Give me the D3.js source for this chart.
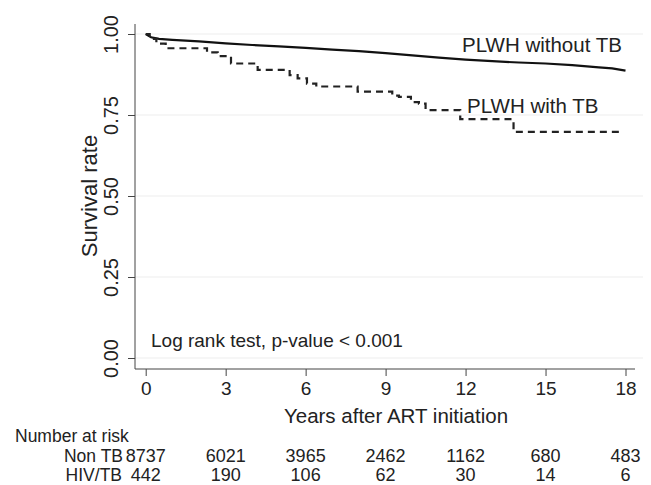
<!DOCTYPE html>
<html lang="en">
<head>
<meta charset="UTF-8">
<title>Survival rate by TB status</title>
<script src="https://d3js.org/d3.v7.min.js"></script>
<style>
    body { margin: 0; background: #fff; font-family: "Liberation Sans", Arial, sans-serif; }
    svg { display: block; }
    .axis text { fill: #222; font-family: "Liberation Sans", Arial, sans-serif; }
    .axis line { stroke: #444; }
    .grid line { stroke: #eeeeee; stroke-width: 1.2; }
    .lbl { fill: #222; }
</style>
</head>
<body>
<svg id="chart" width="651" height="485"></svg>
<script>
    // Kaplan-Meier estimates
    const nonTbTime = [0, 0.2, 0.5, 1, 2, 3, 4, 5, 6, 7, 8, 9, 10, 11, 12, 13, 14, 15, 16, 17, 17.5, 18];
    const nonTbSurv = [1, 0.99, 0.985, 0.982, 0.977, 0.971, 0.966, 0.962, 0.957, 0.952, 0.947, 0.941, 0.934, 0.927, 0.921, 0.916, 0.912, 0.909, 0.904, 0.897, 0.894, 0.887];

    const tbTime = [0, 0.15, 0.4, 0.75, 2.3, 2.7, 3.2, 4.2, 5.4, 5.7, 6.05, 6.4, 7.95, 9.25, 9.5, 9.95, 10.25, 10.5, 11.8, 13.8, 17.8];
    const tbSurv = [1, 0.985, 0.97, 0.956, 0.943, 0.932, 0.909, 0.889, 0.873, 0.863, 0.847, 0.838, 0.822, 0.81, 0.806, 0.79, 0.785, 0.765, 0.737, 0.698, 0.698];

    // number at risk table
    const riskTimes = [0, 3, 6, 9, 12, 15, 18];
    const riskNonTB = [8737, 6021, 3965, 2462, 1162, 680, 483];
    const riskTB = [442, 190, 106, 62, 30, 14, 6];

    const xTicks = [0, 3, 6, 9, 12, 15, 18];
    const yTicks = [0, 0.25, 0.5, 0.75, 1];

    const svg = d3.select("#chart");

    const x = d3.scaleLinear().domain([0, 18]).range([145.7, 625.5]);
    const y = d3.scaleLinear().domain([0, 1]).range([358, 34]);

    const plotLeft = 135, plotRight = 635, plotBottom = 369, plotTop = 24;

    // grid
    svg.append("g").attr("class", "grid")
        .selectAll("line").data(yTicks).enter().append("line")
        .attr("x1", plotLeft).attr("x2", 643)
        .attr("y1", d => y(d)).attr("y2", d => y(d));

    // y axis
    const yAxis = svg.append("g").attr("class", "axis")
        .attr("transform", `translate(${plotLeft},0)`)
        .call(d3.axisLeft(y).tickValues(yTicks).tickFormat(d3.format(".2f")).tickSize(7));
    yAxis.select(".domain").remove();
    yAxis.selectAll("text")
        .attr("transform", "rotate(-90)")
        .attr("x", 0).attr("y", -17).attr("dy", 0)
        .style("text-anchor", "middle")
        .style("font-size", "20px");
    svg.append("line").attr("x1", plotLeft).attr("x2", plotLeft).attr("y1", plotTop).attr("y2", plotBottom)
        .attr("stroke", "#444");

    // x axis
    const xAxis = svg.append("g").attr("class", "axis")
        .attr("transform", `translate(0,${plotBottom})`)
        .call(d3.axisBottom(x).tickValues(xTicks).tickSize(7));
    xAxis.select(".domain").remove();
    xAxis.selectAll("text").attr("y", 13).style("font-size", "19px");
    svg.append("line").attr("x1", plotLeft).attr("x2", plotRight).attr("y1", plotBottom).attr("y2", plotBottom)
        .attr("stroke", "#444");

    // axis titles
    svg.append("text").attr("class", "lbl")
        .attr("transform", `translate(97,${y(0.5)}) rotate(-90)`)
        .attr("text-anchor", "middle")
        .style("font-size", "22px")
        .text("Survival rate");
    svg.append("text").attr("class", "lbl")
        .attr("x", 396).attr("y", 423)
        .attr("text-anchor", "middle")
        .style("font-size", "20.5px")
        .text("Years after ART initiation");

    // curves
    const nonTb = nonTbTime.map((t, i) => ({ t: t, s: nonTbSurv[i] }));
    const tb = tbTime.map((t, i) => ({ t: t, s: tbSurv[i] }));

    svg.append("path").datum(nonTb)
        .attr("fill", "none").attr("stroke", "#111").attr("stroke-width", 2.2)
        .attr("d", d3.line().x(d => x(d.t)).y(d => y(d.s)));

    svg.append("path").datum(tb)
        .attr("fill", "none").attr("stroke", "#222").attr("stroke-width", 2.2)
        .attr("stroke-dasharray", "7,5")
        .attr("d", d3.line().curve(d3.curveStepAfter).x(d => x(d.t)).y(d => y(d.s)));

    // annotations
    svg.append("text").attr("class", "lbl")
        .attr("x", 462).attr("y", 52)
        .style("font-size", "20.5px")
        .text("PLWH without TB");
    svg.append("text").attr("class", "lbl")
        .attr("x", 467).attr("y", 113)
        .style("font-size", "20.5px")
        .text("PLWH with TB");
    svg.append("text").attr("class", "lbl")
        .attr("x", 151).attr("y", 346.5)
        .style("font-size", "19px")
        .text("Log rank test, p-value < 0.001");

    // number at risk
    svg.append("text").attr("class", "lbl")
        .attr("x", 15).attr("y", 442)
        .style("font-size", "17.5px")
        .text("Number at risk");
    svg.append("text").attr("class", "lbl")
        .attr("x", 123).attr("y", 462).attr("text-anchor", "end")
        .style("font-size", "17.5px").text("Non TB");
    svg.append("text").attr("class", "lbl")
        .attr("x", 122).attr("y", 481).attr("text-anchor", "end")
        .style("font-size", "17.5px").text("HIV/TB");

    svg.append("g").selectAll("text").data(riskTimes).enter().append("text")
        .attr("class", "lbl")
        .attr("x", d => x(d)).attr("y", 462)
        .attr("text-anchor", "middle").style("font-size", "18px")
        .text((d, i) => riskNonTB[i]);
    svg.append("g").selectAll("text").data(riskTimes).enter().append("text")
        .attr("class", "lbl")
        .attr("x", d => x(d)).attr("y", 481)
        .attr("text-anchor", "middle").style("font-size", "18px")
        .text((d, i) => riskTB[i]);
</script>
</body>
</html>
